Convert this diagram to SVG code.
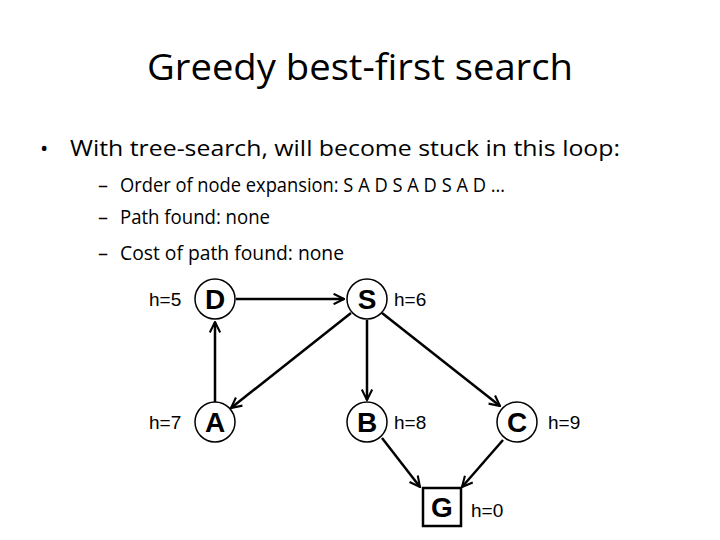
<svg xmlns="http://www.w3.org/2000/svg" width="720" height="540" viewBox="0 0 720 540">
<style>
.t{font-family:"Open Sans","Liberation Sans",sans-serif;fill:#000}
.n{font-family:"Liberation Sans",Arial,sans-serif;font-weight:bold;font-size:28px;text-anchor:middle}
.h{font-family:"Liberation Sans",Arial,sans-serif;font-size:19px}
circle,rect{fill:#fff;stroke:#000;stroke-width:1.5}
.e line{stroke:#000;stroke-width:2.5;marker-end:url(#a)}
</style>
<defs><marker id="a" viewBox="0 0 12 12" refX="11" refY="6" markerWidth="5" markerHeight="5" orient="auto" markerUnits="strokeWidth"><path d="M1,1 L11,6 L1,11" fill="none" stroke="#000" stroke-width="2"/></marker></defs>
<rect width="720" height="540" style="fill:#fff;stroke:none"/>
<text class="t" x="147" y="80" font-size="37" textLength="426" lengthAdjust="spacingAndGlyphs">Greedy best-first search</text>
<text class="t" x="40" y="156" font-size="22">•</text>
<text class="t" x="70" y="156" font-size="22" textLength="550" lengthAdjust="spacingAndGlyphs">With tree-search, will become stuck in this loop:</text>
<text class="t" x="98" y="192" font-size="20">–</text>
<text class="t" x="120" y="192" font-size="20" textLength="385" lengthAdjust="spacingAndGlyphs">Order of node expansion:  S A D S A D S A D …</text>
<text class="t" x="98" y="224" font-size="20">–</text>
<text class="t" x="120" y="224" font-size="20" textLength="150" lengthAdjust="spacingAndGlyphs">Path found: none</text>
<text class="t" x="98" y="260" font-size="20">–</text>
<text class="t" x="120" y="260" font-size="20" textLength="224" lengthAdjust="spacingAndGlyphs">Cost of path found: none</text>
<g class="e" id="edges">
<line x1="236" y1="299" x2="344" y2="299"/>
<line x1="215" y1="402" x2="215" y2="322"/>
<line x1="351" y1="313" x2="231" y2="408"/>
<line x1="367" y1="320" x2="367" y2="400"/>
<line x1="382" y1="313" x2="500" y2="406"/>
<line x1="382" y1="438" x2="420" y2="487"/>
<line x1="503" y1="440" x2="462" y2="487"/>
</g>
<g id="D"><circle cx="215" cy="299" r="20"/><text class="n" x="215" y="309">D</text><text class="h" x="149" y="306">h=5</text></g>
<g id="S"><circle cx="367" cy="299" r="20"/><text class="n" x="367" y="309">S</text><text class="h" x="394" y="306">h=6</text></g>
<g id="A"><circle cx="215" cy="422" r="20"/><text class="n" x="215" y="432">A</text><text class="h" x="149" y="429">h=7</text></g>
<g id="B"><circle cx="367" cy="422" r="20"/><text class="n" x="367" y="432">B</text><text class="h" x="394" y="429">h=8</text></g>
<g id="C"><circle cx="517" cy="422" r="20"/><text class="n" x="517" y="432">C</text><text class="h" x="548" y="429">h=9</text></g>
<g id="G"><rect x="423" y="488" width="38" height="38" style="stroke-width:2.5"/><text class="n" x="442" y="517">G</text><text class="h" x="471" y="517">h=0</text></g>
</svg>
